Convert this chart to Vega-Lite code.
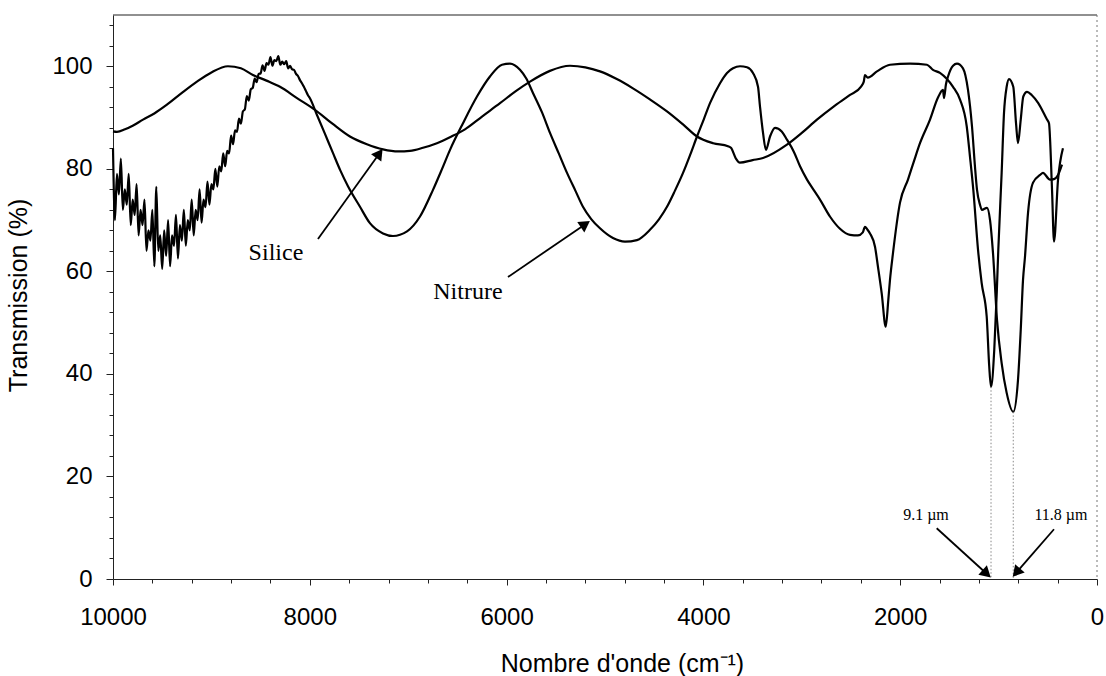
{
  "$schema": "https://vega.github.io/schema/vega-lite/v6.json",
  "width": 984,
  "height": 564,
  "autosize": {"type": "none"},
  "padding": {"left": 113, "top": 15, "right": 9, "bottom": 97},
  "background": "#ffffff",
  "config": {
    "view": {"stroke": null},
    "axis": {
      "grid": false,
      "labelFont": "Liberation Sans",
      "titleFont": "Liberation Sans",
      "labelColor": "#000000",
      "titleColor": "#000000",
      "titleFontWeight": "normal",
      "domainColor": "#222222",
      "tickColor": "#222222"
    }
  },
  "datasets": {
    "silice": [
      {"wn":10000,"t":87.3},{"wn":9960,"t":87.2},{"wn":9878,"t":87.7},{"wn":9800,"t":88.4},{"wn":9695,"t":89.6},
      {"wn":9580,"t":90.8},{"wn":9452,"t":92.5},{"wn":9300,"t":94.8},{"wn":9147,"t":97.0},{"wn":9000,"t":98.8},
      {"wn":8832,"t":100.0},{"wn":8700,"t":99.6},{"wn":8578,"t":98.3},{"wn":8440,"t":97.2},{"wn":8303,"t":96.0},
      {"wn":8130,"t":93.8},{"wn":7947,"t":91.5},{"wn":7770,"t":88.8},{"wn":7592,"t":86.3},{"wn":7420,"t":84.8},
      {"wn":7256,"t":83.8},{"wn":7100,"t":83.4},{"wn":6982,"t":83.5},{"wn":6850,"t":84.1},{"wn":6708,"t":85.0},
      {"wn":6560,"t":86.3},{"wn":6423,"t":87.7},{"wn":6250,"t":90.2},{"wn":6067,"t":92.8},{"wn":5910,"t":95.1},
      {"wn":5762,"t":97.0},{"wn":5560,"t":99.1},{"wn":5356,"t":100.1},{"wn":5200,"t":99.8},{"wn":5051,"t":99.0},
      {"wn":4880,"t":97.5},{"wn":4716,"t":95.7},{"wn":4540,"t":93.5},{"wn":4370,"t":91.2},{"wn":4210,"t":88.7},
      {"wn":4065,"t":86.3},{"wn":3900,"t":85.0},{"wn":3750,"t":84.4},{"wn":3720,"t":84.1},{"wn":3670,"t":82.0},
      {"wn":3630,"t":81.2},{"wn":3500,"t":81.7},{"wn":3394,"t":82.1},{"wn":3151,"t":84.7},{"wn":3000,"t":87.0},
      {"wn":2846,"t":89.6},{"wn":2680,"t":92.1},{"wn":2510,"t":94.4},{"wn":2400,"t":96.0},{"wn":2370,"t":97.0},
      {"wn":2358,"t":98.3},{"wn":2330,"t":97.8},{"wn":2236,"t":99.0},{"wn":2104,"t":100.3},{"wn":1900,"t":100.5},
      {"wn":1728,"t":100.3},{"wn":1667,"t":99.3},{"wn":1596,"t":98.7},{"wn":1530,"t":97.6},{"wn":1463,"t":96.0},
      {"wn":1392,"t":93.5},{"wn":1324,"t":88.3},{"wn":1291,"t":82.4},{"wn":1257,"t":75.9},{"wn":1209,"t":64.2},
      {"wn":1172,"t":57.7},{"wn":1121,"t":51.2},{"wn":1095,"t":41.4},{"wn":1077,"t":37.5},{"wn":1044,"t":44.7},
      {"wn":1019,"t":55.7},{"wn":1003,"t":64.2},{"wn":969,"t":79.2},{"wn":945,"t":90.9},{"wn":918,"t":96.0},
      {"wn":894,"t":97.5},{"wn":851,"t":96.0},{"wn":823,"t":88.9},{"wn":803,"t":85.0},{"wn":775,"t":89.6},
      {"wn":749,"t":94.1},{"wn":711,"t":95.0},{"wn":664,"t":94.4},{"wn":597,"t":92.8},{"wn":508,"t":89.6},
      {"wn":488,"t":88.9},{"wn":457,"t":75.9},{"wn":437,"t":65.8},{"wn":396,"t":77.9},{"wn":346,"t":84.0}
    ],
    "nitrure": [
      {"wn":10000,"t":84},{"wn":9980,"t":70},{"wn":9960,"t":79},{"wn":9940,"t":75},{"wn":9920,"t":82},
      {"wn":9900,"t":72},{"wn":9880,"t":76},{"wn":9860,"t":73},{"wn":9840,"t":79},{"wn":9820,"t":69},
      {"wn":9800,"t":74},{"wn":9780,"t":71},{"wn":9760,"t":77},{"wn":9740,"t":67},{"wn":9720,"t":72},
      {"wn":9700,"t":69},{"wn":9680,"t":74},{"wn":9660,"t":64},{"wn":9640,"t":68},{"wn":9620,"t":66},
      {"wn":9600,"t":72},{"wn":9580,"t":61},{"wn":9560,"t":76.5},{"wn":9540,"t":64},{"wn":9520,"t":67},
      {"wn":9500,"t":60.5},{"wn":9480,"t":68},{"wn":9460,"t":63},{"wn":9440,"t":70},{"wn":9420,"t":61},
      {"wn":9400,"t":67},{"wn":9380,"t":65},{"wn":9360,"t":71},{"wn":9340,"t":62.5},{"wn":9320,"t":69},
      {"wn":9300,"t":66},{"wn":9280,"t":72},{"wn":9260,"t":65},{"wn":9240,"t":70},{"wn":9220,"t":68},
      {"wn":9200,"t":74},{"wn":9180,"t":67},{"wn":9160,"t":72},{"wn":9140,"t":70},{"wn":9120,"t":76},
      {"wn":9100,"t":69.5},{"wn":9080,"t":74},{"wn":9060,"t":72.5},{"wn":9040,"t":77.5},{"wn":9020,"t":73},
      {"wn":9000,"t":77},{"wn":8980,"t":76},{"wn":8960,"t":80},{"wn":8940,"t":76.5},{"wn":8920,"t":80.5},
      {"wn":8900,"t":79.5},{"wn":8880,"t":83},{"wn":8860,"t":80.5},{"wn":8840,"t":83.5},{"wn":8820,"t":83},
      {"wn":8800,"t":86.5},{"wn":8780,"t":84.8},{"wn":8760,"t":87.5},{"wn":8740,"t":87.2},{"wn":8720,"t":89.8},
      {"wn":8700,"t":88.8},{"wn":8680,"t":91.2},{"wn":8660,"t":91.6},{"wn":8640,"t":94.2},{"wn":8620,"t":93.3},
      {"wn":8600,"t":95.5},{"wn":8580,"t":95.8},{"wn":8560,"t":97.6},{"wn":8540,"t":96.9},{"wn":8520,"t":98.5},
      {"wn":8500,"t":98.6},{"wn":8480,"t":100.2},{"wn":8460,"t":99.1},{"wn":8440,"t":100.6},{"wn":8420,"t":100.3},
      {"wn":8400,"t":101.8},{"wn":8380,"t":100.1},{"wn":8360,"t":101.2},{"wn":8340,"t":101.0},{"wn":8320,"t":102.0},
      {"wn":8300,"t":100.3},{"wn":8280,"t":100.9},{"wn":8260,"t":100.4},{"wn":8240,"t":101.0},{"wn":8220,"t":99.6},
      {"wn":8200,"t":100.1},{"wn":8180,"t":99.4},{"wn":8160,"t":99.3},{"wn":8140,"t":98.5},{"wn":8120,"t":98.1},
      {"wn":8100,"t":97.3},{"wn":8080,"t":96.7},{"wn":8060,"t":96.0},{"wn":8040,"t":95.2},{"wn":8020,"t":94.4},
      {"wn":8000,"t":93.8},{"wn":7927,"t":90.5},{"wn":7850,"t":87.0},{"wn":7765,"t":83.1},{"wn":7690,"t":79.7},
      {"wn":7612,"t":76.6},{"wn":7490,"t":72.6},{"wn":7389,"t":69.4},{"wn":7256,"t":67.4},{"wn":7155,"t":66.9},
      {"wn":7012,"t":67.8},{"wn":6880,"t":70.7},{"wn":6748,"t":75.9},{"wn":6660,"t":79.8},{"wn":6575,"t":83.7},
      {"wn":6443,"t":88.9},{"wn":6301,"t":94.1},{"wn":6169,"t":98.0},{"wn":6047,"t":100.3},{"wn":5966,"t":100.5},
      {"wn":5864,"t":99.3},{"wn":5800,"t":97.6},{"wn":5732,"t":94.8},{"wn":5640,"t":91.0},{"wn":5559,"t":87.0},
      {"wn":5470,"t":83.0},{"wn":5386,"t":79.2},{"wn":5300,"t":75.7},{"wn":5224,"t":72.6},{"wn":5140,"t":70.2},
      {"wn":5051,"t":68.4},{"wn":4919,"t":66.5},{"wn":4797,"t":65.8},{"wn":4675,"t":66.1},{"wn":4543,"t":68.1},
      {"wn":4450,"t":70.2},{"wn":4370,"t":72.6},{"wn":4290,"t":75.7},{"wn":4207,"t":79.2},{"wn":4135,"t":82.7},
      {"wn":4065,"t":86.3},{"wn":3995,"t":89.7},{"wn":3933,"t":92.8},{"wn":3831,"t":96.7},{"wn":3760,"t":98.7},
      {"wn":3699,"t":99.6},{"wn":3628,"t":100.0},{"wn":3557,"t":99.8},{"wn":3496,"t":98.7},{"wn":3445,"t":96.0},
      {"wn":3425,"t":92.2},{"wn":3394,"t":87.0},{"wn":3364,"t":83.7},{"wn":3323,"t":86.3},{"wn":3272,"t":88.0},
      {"wn":3204,"t":87.3},{"wn":3151,"t":85.7},{"wn":3080,"t":83.3},{"wn":3018,"t":80.5},{"wn":2947,"t":77.9},
      {"wn":2880,"t":75.9},{"wn":2815,"t":74.0},{"wn":2714,"t":70.7},{"wn":2612,"t":68.3},{"wn":2510,"t":67.1},
      {"wn":2429,"t":67.0},{"wn":2380,"t":67.6},{"wn":2358,"t":68.7},{"wn":2335,"t":68.2},{"wn":2307,"t":67.4},
      {"wn":2256,"t":64.8},{"wn":2226,"t":60.9},{"wn":2188,"t":55.7},{"wn":2147,"t":49.2},{"wn":2121,"t":54.4},
      {"wn":2104,"t":58.3},{"wn":2073,"t":63.6},{"wn":2002,"t":73.4},{"wn":1921,"t":77.9},{"wn":1860,"t":81.5},
      {"wn":1799,"t":85.0},{"wn":1697,"t":89.6},{"wn":1616,"t":93.9},{"wn":1565,"t":95.4},{"wn":1555,"t":93.8},
      {"wn":1535,"t":96.5},{"wn":1514,"t":98.0},{"wn":1463,"t":100.1},{"wn":1423,"t":100.5},{"wn":1362,"t":99.6},
      {"wn":1311,"t":95.4},{"wn":1270,"t":88.2},{"wn":1240,"t":80.4},{"wn":1220,"t":76.0},{"wn":1189,"t":73.0},
      {"wn":1169,"t":72.0},{"wn":1118,"t":72.4},{"wn":1087,"t":70.0},{"wn":1057,"t":63.6},{"wn":1016,"t":50.5},
      {"wn":969,"t":42.1},{"wn":918,"t":36.3},{"wn":851,"t":32.6},{"wn":803,"t":38.8},{"wn":775,"t":48.6},
      {"wn":752,"t":58.3},{"wn":732,"t":62.8},{"wn":701,"t":71.4},{"wn":650,"t":77.3},{"wn":579,"t":78.8},
      {"wn":549,"t":79.2},{"wn":478,"t":77.9},{"wn":437,"t":78.0},{"wn":396,"t":78.8},{"wn":356,"t":80.8}
    ],
    "drops": [{"wn":1077,"t":37.5},{"wn":851,"t":32.6}],
    "top": [{"t":110}],
    "right": [{"wn":0}],
    "arrows": [
      {"wn1":7917,"t1":66.3,"wn2":7293,"t2":83.0,"heading":35.7},
      {"wn1":5986,"t1":58.9,"wn2":5200,"t2":69.2,"heading":55.8},
      {"wn1":1629,"t1":9.9,"wn2":1121,"t2":1.03,"heading":132.2},
      {"wn1":437,"t1":9.7,"wn2":820,"t2":1.25,"heading":221.1}
    ],
    "labels": [
      {"kind":"curve","text":"Silice","wn":8344,"t":62.2},
      {"kind":"curve","text":"Nitrure","wn":6393,"t":54.6},
      {"kind":"peak","text":"9.1 µm","wn":1738,"t":11.5},
      {"kind":"peak","text":"11.8 µm","wn":366,"t":11.5}
    ]
  },
  "layer": [
    {
      "data": {"name": "silice"},
      "mark": {"type": "line", "color": "#000000", "strokeWidth": 2.2, "interpolate": "monotone"},
      "encoding": {
        "x": {"field": "wn", "type": "quantitative",
              "scale": {"domain": [0, 10000], "reverse": true, "nice": false},
              "axis": {"orient": "bottom", "values": [10000, 8000, 6000, 4000, 2000, 0], "format": "d",
                       "labelFontSize": 24, "tickSize": 6, "labelPadding": 20, "labelFlush": false,
                       "title": "Nombre d'onde (cm⁻¹)", "titleFontSize": 25,
                       "titleX": 509, "titleY": 72, "titleBaseline": "top", "titleAnchor": null}},
        "y": {"field": "t", "type": "quantitative",
              "scale": {"domain": [0, 110], "nice": false},
              "axis": {"orient": "left", "values": [0, 20, 40, 60, 80, 100], "format": "d",
                       "labelFontSize": 24, "tickSize": 7, "labelPadding": 14,
                       "title": "Transmission (%)", "titleFontSize": 25,
                       "titleX": -82, "titleY": 280, "titleBaseline": "bottom", "titleAngle": 270}},
        "order": {"field": "wn", "sort": "descending"}
      }
    },
    {
      "data": {"name": "nitrure"},
      "mark": {"type": "line", "color": "#000000", "strokeWidth": 2.2, "interpolate": "monotone"},
      "encoding": {
        "x": {"field": "wn", "type": "quantitative", "scale": {"domain": [0, 10000], "reverse": true, "nice": false}, "axis": null},
        "y": {"field": "t", "type": "quantitative", "scale": {"domain": [0, 110], "nice": false}, "axis": null},
        "order": {"field": "wn", "sort": "descending"}
      }
    },
    {
      "data": {"name": "drops"},
      "mark": {"type": "rule", "color": "#888888", "strokeWidth": 1, "strokeDash": [1.5, 2]},
      "encoding": {
        "x": {"field": "wn", "type": "quantitative",
              "scale": {"domain": [0, 10000], "reverse": true, "nice": false},
              "axis": {"orient": "bottom", "values": [9600, 9200, 8800, 8400, 7600, 7200, 6800, 6400, 5600, 5200, 4800, 4400, 3600, 3200, 2800, 2400, 1600, 1200, 800, 400],
                       "labels": false, "domain": false, "tickSize": 4, "title": null}},
        "y": {"field": "t", "type": "quantitative",
              "scale": {"domain": [0, 110], "nice": false},
              "axis": {"orient": "left", "values": [4, 8, 12, 16, 24, 28, 32, 36, 44, 48, 52, 56, 64, 68, 72, 76, 84, 88, 92, 96, 104, 108],
                       "labels": false, "domain": false, "tickSize": 4, "title": null}},
        "y2": {"datum": 0}
      }
    },
    {
      "data": {"name": "top"},
      "mark": {"type": "rule", "color": "#222222", "strokeWidth": 1.2},
      "encoding": {
        "y": {"field": "t", "type": "quantitative", "scale": {"domain": [0, 110], "nice": false}, "axis": null}
      }
    },
    {
      "data": {"name": "right"},
      "mark": {"type": "rule", "color": "#777777", "strokeWidth": 1, "strokeDash": [2, 3]},
      "encoding": {
        "x": {"field": "wn", "type": "quantitative", "scale": {"domain": [0, 10000], "reverse": true, "nice": false}, "axis": null}
      }
    },
    {
      "data": {"name": "arrows"},
      "mark": {"type": "rule", "color": "#000000", "strokeWidth": 1.8},
      "encoding": {
        "x": {"field": "wn1", "type": "quantitative", "scale": {"domain": [0, 10000], "reverse": true, "nice": false}, "axis": null},
        "y": {"field": "t1", "type": "quantitative", "scale": {"domain": [0, 110], "nice": false}, "axis": null},
        "x2": {"field": "wn2"},
        "y2": {"field": "t2"}
      }
    },
    {
      "data": {"name": "arrows"},
      "mark": {"type": "point", "shape": "triangle-up", "filled": true, "color": "#000000", "size": 160, "opacity": 1},
      "encoding": {
        "x": {"field": "wn2", "type": "quantitative", "scale": {"domain": [0, 10000], "reverse": true, "nice": false}, "axis": null},
        "y": {"field": "t2", "type": "quantitative", "scale": {"domain": [0, 110], "nice": false}, "axis": null},
        "angle": {"field": "heading", "type": "quantitative", "scale": null}
      }
    },
    {
      "data": {"name": "labels"},
      "transform": [{"filter": "datum.kind === 'curve'"}],
      "mark": {"type": "text", "font": "Liberation Serif", "fontSize": 24, "color": "#000000", "align": "center", "baseline": "alphabetic"},
      "encoding": {
        "x": {"field": "wn", "type": "quantitative", "scale": {"domain": [0, 10000], "reverse": true, "nice": false}, "axis": null},
        "y": {"field": "t", "type": "quantitative", "scale": {"domain": [0, 110], "nice": false}, "axis": null},
        "text": {"field": "text"}
      }
    },
    {
      "data": {"name": "labels"},
      "transform": [{"filter": "datum.kind === 'peak'"}],
      "mark": {"type": "text", "font": "Liberation Serif", "fontSize": 16, "color": "#000000", "align": "center", "baseline": "alphabetic"},
      "encoding": {
        "x": {"field": "wn", "type": "quantitative", "scale": {"domain": [0, 10000], "reverse": true, "nice": false}, "axis": null},
        "y": {"field": "t", "type": "quantitative", "scale": {"domain": [0, 110], "nice": false}, "axis": null},
        "text": {"field": "text"}
      }
    }
  ],
  "resolve": {"axis": {"x": "independent", "y": "independent"}}
}
